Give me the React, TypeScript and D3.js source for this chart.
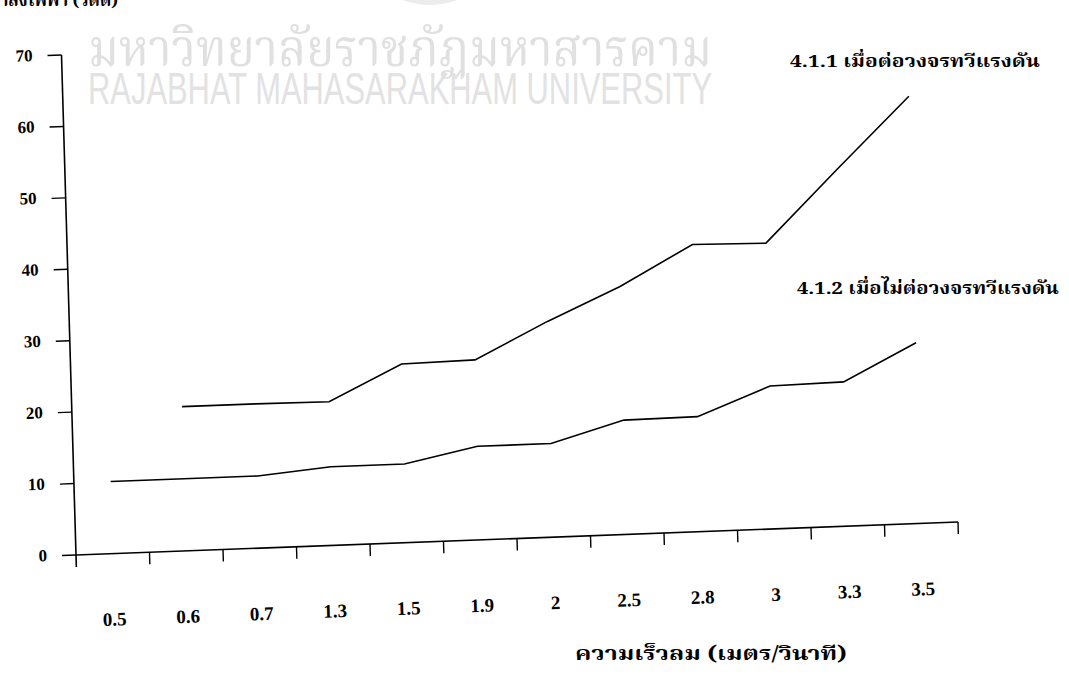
import { useMemo } from "react"
import * as d3 from "d3"

// wind speed categories (m/s)
const categories = ["0.5", "0.6", "0.7", "1.3", "1.5", "1.9", "2", "2.5", "2.8", "3", "3.3", "3.5"]

// 4.1.1 with voltage multiplier circuit
const withMultiplier: (number | null)[] = [null, 20.2, 20.2, 20.1, 25.0, 25.2, 30.2, 34.7, 40.2, 40.0, 50.0, 59.8]
// 4.1.2 without voltage multiplier circuit
const withoutMultiplier: (number | null)[] = [10.1, 10.1, 10.1, 11.0, 11.0, 13.1, 13.1, 16.0, 16.1, 20.0, 20.2, 25.3]

const yTicks = [0, 10, 20, 30, 40, 50, 60, 70]

const labelWithMultiplier = "4.1.1 เมื่อต่อวงจรทวีแรงดัน"
const labelWithoutMultiplier = "4.1.2 เมื่อไม่ต่อวงจรทวีแรงดัน"
const xTitle = "ความเร็วลม (เมตร/วินาที)"
const yTitle = "กำลังไฟฟ้า (วัตต์)"

const width = 1069
const height = 683
const plotW = 882
const plotH = 500

const digitFont = "'Liberation Serif', 'DejaVu Serif', serif"
const thaiFont = "'Noto Serif Thai', 'Noto Sans Thai', 'Loma', 'Garuda', 'Tlwg Typo', sans-serif"

export default function App() {
  const x = useMemo(() => d3.scaleBand<string>().domain(categories).range([0, plotW]), [])
  const y = useMemo(() => d3.scaleLinear().domain([0, 70]).range([0, -plotH]), [])
  const bw = x.bandwidth()

  const line = d3
    .line<number | null>()
    .defined((d) => d != null)
    .x((_, i) => (x(categories[i]) ?? 0) + bw / 2)
    .y((d) => y(d as number))

  // the scanned page is slightly skewed, so the plot sits in a sheared frame
  const frame = "matrix(1,-0.0374,0.029,1,76,555)"

  return (
    <svg
      width={width}
      height={height}
      style={{ position: "absolute", left: 0, top: 0, background: "#fff" }}
    >
      {/* watermark */}
      <ellipse cx={430} cy={-40} rx={60} ry={45} fill="#ececec" />
      <text
        x={88}
        y={66}
        fontFamily={thaiFont}
        fontSize={52}
        fill="#e0e0e0"
        textLength={624}
        lengthAdjust="spacingAndGlyphs"
      >
        มหาวิทยาลัยราชภัฏมหาสารคาม
      </text>
      <text
        x={88}
        y={104}
        fontFamily="'Liberation Sans', Arial, sans-serif"
        fontSize={45}
        fill="#e2e2e2"
        textLength={624}
        lengthAdjust="spacingAndGlyphs"
      >
        RAJABHAT MAHASARAKHAM UNIVERSITY
      </text>

      {/* y title, cut off at the top of the page */}
      <text x={118} y={6} textAnchor="end" fontFamily={thaiFont} fontWeight="bold" fontSize={17} fill="#000">
        {yTitle}
      </text>

      <g transform={frame}>
        {/* axes */}
        <line x1={0} y1={12} x2={0} y2={y(70)} stroke="#000" strokeWidth={1.6} />
        <line x1={0} y1={0} x2={plotW} y2={0} stroke="#000" strokeWidth={1.6} />
        {categories.map((c, i) => (
          <line
            key={"xt" + c}
            x1={(x(c) ?? 0) + bw}
            x2={(x(c) ?? 0) + bw}
            y1={0}
            y2={12}
            stroke="#000"
            strokeWidth={1.4}
          />
        ))}
        {yTicks.map((t) => (
          <g key={"yt" + t}>
            <line x1={-14} x2={0} y1={y(t)} y2={y(t)} stroke="#000" strokeWidth={1.4} />
            <text
              x={-29}
              y={y(t) + 5}
              textAnchor="end"
              fontFamily={digitFont}
              fontWeight="bold"
              fontSize={17}
              fill="#000"
            >
              {t}
            </text>
          </g>
        ))}
        {categories.map((c) => (
          <text
            key={"xl" + c}
            x={(x(c) ?? 0) + bw / 2}
            y={72}
            textAnchor="middle"
            fontFamily={digitFont}
            fontWeight="bold"
            fontSize={19}
            fill="#000"
          >
            {c}
          </text>
        ))}

        {/* series */}
        <path d={line(withMultiplier) ?? ""} fill="none" stroke="#000" strokeWidth={1.6} />
        <path d={line(withoutMultiplier) ?? ""} fill="none" stroke="#000" strokeWidth={1.6} />
      </g>

      {/* series labels */}
      <text
        x={790}
        y={67}
        fontFamily={thaiFont}
        fontWeight="bold"
        fontSize={17}
        fill="#000"
        textLength={250}
        lengthAdjust="spacingAndGlyphs"
      >
        {labelWithMultiplier}
      </text>
      <text
        x={797}
        y={294}
        fontFamily={thaiFont}
        fontWeight="bold"
        fontSize={17}
        fill="#000"
        textLength={262}
        lengthAdjust="spacingAndGlyphs"
      >
        {labelWithoutMultiplier}
      </text>

      {/* x title */}
      <text
        x={575}
        y={660}
        fontFamily={thaiFont}
        fontWeight="bold"
        fontSize={19}
        fill="#000"
        textLength={272}
        lengthAdjust="spacingAndGlyphs"
      >
        {xTitle}
      </text>
    </svg>
  )
}
